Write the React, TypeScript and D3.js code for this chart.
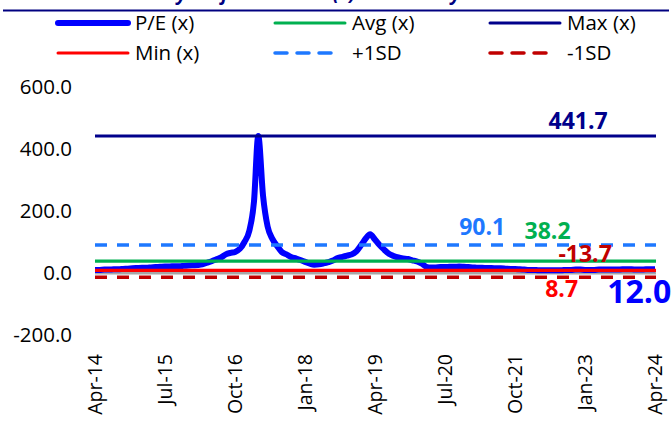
import React from "react";
import * as d3 from "d3";

// ---------- data ----------
const startMonth = new Date(2014, 3, 1); // Apr-14
const peValues: number[] = [
  // Apr-14 .. Mar-15
  10, 10, 11, 11, 12, 12, 13, 14, 15, 16, 17, 17,
  // Apr-15 .. Mar-16
  18, 19, 20, 21, 21, 22, 22, 23, 24, 25, 26, 28,
  // Apr-16 .. Mar-17
  33, 38, 44, 50, 60, 65, 68, 78, 100, 135, 230, 441.7,
  // Apr-17 .. Mar-18
  250, 150, 110, 88, 68, 60, 52, 47, 42, 36, 30, 27,
  // Apr-18 .. Mar-19
  28, 31, 35, 40, 48, 52, 56, 60, 70, 90, 112, 125,
  // Apr-19 .. Mar-20
  108, 90, 75, 62, 55, 50, 47, 45, 41, 37, 30, 20,
  // Apr-20 .. Mar-21
  18, 18, 19, 19, 20, 20, 21, 20, 19, 18, 17, 17,
  // Apr-21 .. Mar-22
  16, 16, 15, 15, 14, 13, 13, 12, 11, 10, 10, 9,
  // Apr-22 .. Mar-23
  9, 8.7, 9, 9, 9, 10, 10, 11, 11, 10, 10, 10,
  // Apr-23 .. Apr-24
  11, 11, 11, 11, 11, 12, 12, 12, 11, 11, 12, 12, 12.0,
];
const avgValue = 38.2;
const maxValue = 441.7;
const minValue = 8.7;
const plusSD = 90.1;
const minusSD = -13.7;

const yTicks = [-200, 0, 200, 400, 600];
const xTickLabels = ["Apr-14", "Jul-15", "Oct-16", "Jan-18", "Apr-19", "Jul-20", "Oct-21", "Jan-23", "Apr-24"];

const legendItems = [
  { label: "P/E (x)", color: "#0000FF", width: 6, dash: "" },
  { label: "Avg (x)", color: "#00B050", width: 3, dash: "" },
  { label: "Max (x)", color: "#00008B", width: 3, dash: "" },
  { label: "Min (x)", color: "#FF0000", width: 3, dash: "" },
  { label: "+1SD", color: "#1E78FF", width: 3.5, dash: "12 10" },
  { label: "-1SD", color: "#C00000", width: 3.5, dash: "12 10" },
];

const FONT = "'Open Sans', 'Noto Sans', sans-serif";

const addMonths = (d: Date, m: number) => d3.timeMonth.offset(d, m);
const peData = peValues.map((v, i) => ({ date: addMonths(startMonth, i), v }));

export default function App() {
  const W = 672;
  const H = 426;
  const x = d3.scaleTime().domain([startMonth, addMonths(startMonth, 120)]).range([95, 655]);
  const y = d3.scaleLinear().domain([-200, 600]).range([335, 87]);

  const line = d3
    .line<{ date: Date; v: number }>()
    .x((d) => x(d.date))
    .y((d) => y(d.v))
    .curve(d3.curveMonotoneX);

  const x0 = x.range()[0];
  const x1 = x.range()[1] + 1;

  const hLines = [
    { v: avgValue, color: "#00B050", w: 3.2, dash: "" },
    { v: maxValue, color: "#00008B", w: 3, dash: "" },
    { v: minValue, color: "#FF0000", w: 3.2, dash: "" },
    { v: plusSD, color: "#1E78FF", w: 3.5, dash: "12 10" },
    { v: minusSD, color: "#C00000", w: 3.5, dash: "12 10" },
  ];

  const labels = [
    { text: "441.7", m: 103.5, v: maxValue, dy: -7, color: "#00008B", size: 23, anchor: "middle" },
    { text: "90.1", m: 83, v: plusSD, dy: -10, color: "#1E78FF", size: 23, anchor: "middle" },
    { text: "38.2", m: 97, v: avgValue, dy: -22, color: "#00B050", size: 23, anchor: "middle" },
    { text: "-13.7", m: 105, v: minusSD, dy: -15, color: "#C00000", size: 23, anchor: "middle" },
    { text: "8.7", m: 100, v: minValue, dy: 27, color: "#FF0000", size: 23, anchor: "middle" },
    { text: "12.0", m: 109.8, v: peValues[peValues.length - 1], dy: 34, color: "#0000FF", size: 32, anchor: "start" },
  ];

  const tickDates = xTickLabels.map((_, i) => addMonths(startMonth, i * 15));
  const fmt = d3.timeFormat("%b-%y");
  const yFmt = (t: number) => d3.format(".1f")(t).replace("\u2212", "-");

  const legendCols = [58, 275, 490];
  const legendRows = [23, 53];

  return (
    <svg
      width={W}
      height={H}
      style={{ position: "absolute", left: 0, top: 0, background: "#fff", fontFamily: FONT }}
    >
      {/* title (cut off at the top, as in the source) */}
      <text x={62} y={0} fontSize={19} fontWeight="bold" fontStyle="italic" fill="#000080">
        Exhibit: One-year forward P/E (x) band analysis
      </text>
      <line x1={3} x2={669} y1={10.5} y2={10.5} stroke="#000080" strokeWidth={2} />

      {/* legend */}
      {legendItems.map((it, i) => {
        const cx = legendCols[i % 3];
        const cy = legendRows[Math.floor(i / 3)];
        return (
          <g key={it.label}>
            <line
              x1={cx}
              x2={cx + (it.dash ? 58 : 70)}
              y1={cy}
              y2={cy}
              stroke={it.color}
              strokeWidth={it.width}
              strokeDasharray={it.dash || undefined}
              strokeLinecap="round"
            />
            <text x={cx + 77} y={cy} dy="0.35em" fontSize={20.5} fill="#000">
              {it.label}
            </text>
          </g>
        );
      })}

      {/* y tick labels */}
      {yTicks.map((t) => (
        <text key={t} x={72} y={y(t)} dy="0.36em" textAnchor="end" fontSize={20.5} fill="#000">
          {yFmt(t)}
        </text>
      ))}

      {/* x tick labels */}
      {tickDates.map((d, i) => (
        <text
          key={i}
          transform={`translate(${x(d)},${354}) rotate(-90)`}
          dy="0.36em"
          textAnchor="end"
          fontSize={19.5}
          fill="#000"
        >
          {fmt(d)}
        </text>
      ))}

      {/* zero line */}
      <line x1={x0} x2={x1} y1={y(0)} y2={y(0)} stroke="#A6A6A6" strokeWidth={3} />

      {/* P/E line */}
      <path d={line(peData) || ""} fill="none" stroke="#0000FF" strokeWidth={6} strokeLinejoin="round" />

      {/* reference lines */}
      {hLines.map((h, i) => (
        <line
          key={i}
          x1={x0}
          x2={x1}
          y1={y(h.v)}
          y2={y(h.v)}
          stroke={h.color}
          strokeWidth={h.w}
          strokeDasharray={h.dash || undefined}
        />
      ))}

      {/* value labels */}
      {labels.map((l) => (
        <text
          key={l.text}
          x={x(addMonths(startMonth, Math.floor(l.m))) + (l.m % 1) * 4.667}
          y={y(l.v) + l.dy}
          textAnchor={l.anchor as any}
          fontSize={l.size}
          fontWeight="bold"
          fill={l.color}
        >
          {l.text}
        </text>
      ))}
    </svg>
  );
}
